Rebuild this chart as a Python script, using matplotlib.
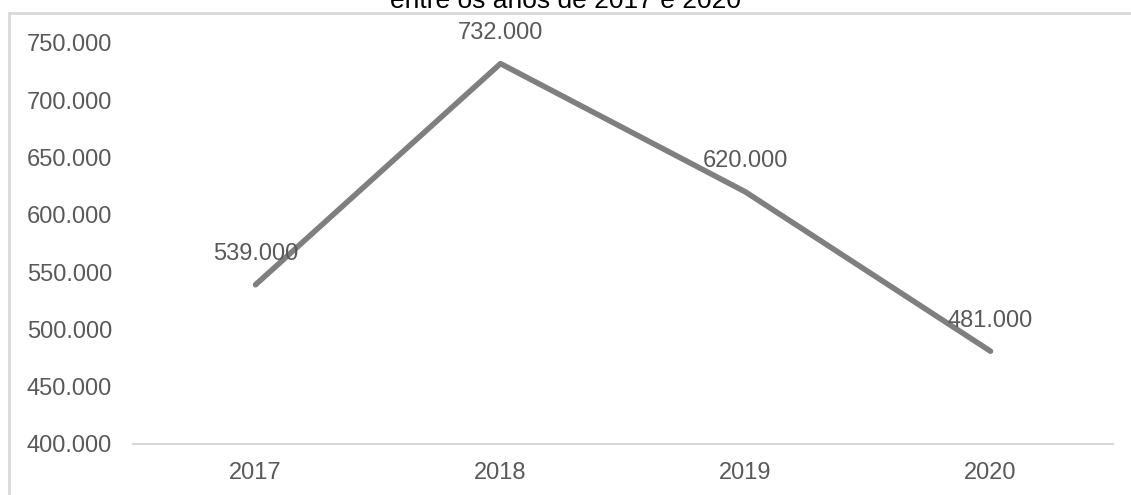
import matplotlib
matplotlib.use('Agg')
import matplotlib.pyplot as plt
from matplotlib.patches import Rectangle
from matplotlib.ticker import FuncFormatter

plt.rcParams['font.family'] = ['Liberation Sans', 'DejaVu Sans']

years = ['2017', '2018', '2019', '2020']
values = [539000, 732000, 620000, 481000]

text_color = '#595959'
line_color = '#7f7f7f'
border_color = '#d9d9d9'

def dot_thousands(v, pos=None):
    return '{:,.0f}'.format(v).replace(',', '.')

fig = plt.figure(figsize=(11.31, 4.95), dpi=100)
ax = fig.add_axes([133 / 1131, 1 - 444 / 495, 980 / 1131, 401 / 495])

x = list(range(len(years)))
ax.plot(x, values, color=line_color, linewidth=4, solid_capstyle='round')
for i in x:
    ax.annotate(dot_thousands(values[i]), (x[i], values[i]), xytext=(0, 22),
                textcoords='offset points', ha='center', va='center',
                fontsize=17, color=text_color)

ax.set_xlim(-0.5, len(years) - 0.5)
ax.set_ylim(400000, 750000)
ax.set_xticks(x)
ax.set_xticklabels(years)
ax.set_yticks(range(400000, 750001, 50000))
ax.yaxis.set_major_formatter(FuncFormatter(dot_thousands))
ax.tick_params(axis='both', length=0, labelsize=17, labelcolor=text_color)
ax.tick_params(axis='y', pad=15)
ax.tick_params(axis='x', pad=13)
for s in ['top', 'right', 'left']:
    ax.spines[s].set_visible(False)
ax.spines['bottom'].set_color(border_color)
ax.spines['bottom'].set_linewidth(1.5)

# chart frame (partly outside the picture)
fig.patches.append(Rectangle((8.5 / 1131, -0.1), 1.2, 1 - 13 / 495 + 0.1,
                             transform=fig.transFigure, fill=False,
                             edgecolor=border_color, linewidth=2))
fig.text(0.5, 1 - 8 / 495, 'entre os anos de 2017 e 2020', ha='center',
         va='baseline', fontsize=19, color='#000000')

fig.savefig('out.png', dpi=100)
plt.close()
